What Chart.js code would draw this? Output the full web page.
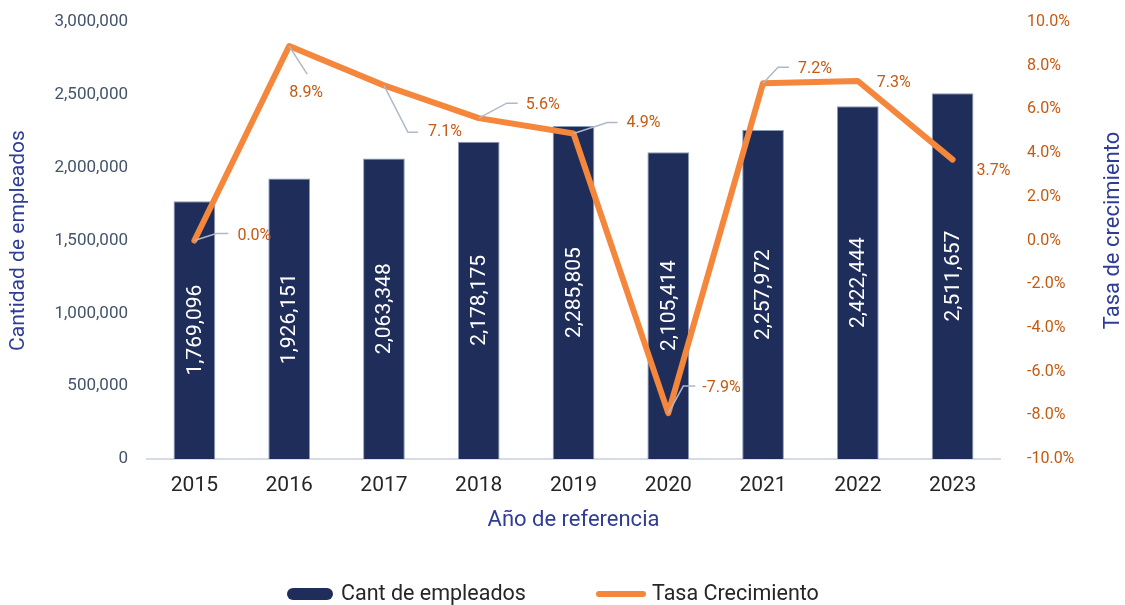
<!DOCTYPE html>
<html>
<head>
<meta charset="utf-8">
<script src="https://cdn.jsdelivr.net/npm/chart.js@4/dist/chart.umd.min.js"></script>
<style>
html,body{margin:0;padding:0;background:#fff;}
#wrap{width:1125px;height:605px;position:relative;}
</style>
</head>
<body>
<div id="wrap"><canvas id="c" width="1125" height="605"></canvas></div>
<script>
// ---- data ----
const years = ['2015','2016','2017','2018','2019','2020','2021','2022','2023'];
const empleados = [1769096, 1926151, 2063348, 2178175, 2285805, 2105414, 2257972, 2422444, 2511657];
const tasa = [0.0, 8.9, 7.1, 5.6, 4.9, -7.9, 7.2, 7.3, 3.7];
const leftTicks = [0, 500000, 1000000, 1500000, 2000000, 2500000, 3000000];
const rightTicks = [-10, -8, -6, -4, -2, 0, 2, 4, 6, 8, 10];

// ---- styles ----
const FONT = 'Roboto, "Noto Sans", sans-serif';
const NAVY = '#1F2D5A';
const ORANGE = '#F5873C';
const ORANGE_TXT = '#C55A11';
const BLUE_TITLE = '#2F3D96';
const LEADER = '#ADB9CA';

// label placement for line labels: text offset (dx,dy) from point, and leader elbow/end offsets
const lineLabelPos = [
  {tx:43, ty:-5, lead:[[22,-7],[34,-7]]},
  {tx:0, ty:47, lead:[[18,28]]},
  {tx:44, ty:47, lead:[[24,47],[34,47]]},
  {tx:47, ty:-13, lead:[[28,-15],[39,-15]]},
  {tx:53, ty:-10, lead:[[34,-11],[44,-11]]},
  {tx:34, ty:-25, lead:[[15,-27],[27,-27]]},
  {tx:35, ty:-14, lead:[[15,-16],[26,-16]]},
  {tx:19, ty:2, lead:null},
  {tx:24, ty:11, lead:null}
];

function zeroPad(s) { s.paddingTop = 0; s.paddingBottom = 0; s.paddingLeft = 0; s.paddingRight = 0; }

const labelPlugin = {
  id: 'labels',
  afterDatasetsDraw(chart) {
    const ctx = chart.ctx;
    const barMeta = chart.getDatasetMeta(0);
    ctx.save();
    ctx.fillStyle = '#FFFFFF';
    ctx.font = '21px ' + FONT;
    ctx.textAlign = 'center';
    ctx.textBaseline = 'middle';
    barMeta.data.forEach((bar, i) => {
      const cy = (bar.y + bar.base) / 2;
      ctx.save();
      ctx.translate(bar.x, cy);
      ctx.rotate(-Math.PI / 2);
      ctx.fillText(empleados[i].toLocaleString('en-US'), 0, 1);
      ctx.restore();
    });
    ctx.restore();
  },
  afterDraw(chart) {
    const ctx = chart.ctx;
    const lineMeta = chart.getDatasetMeta(1);
    ctx.save();
    lineMeta.data.forEach((pt, i) => {
      const p = lineLabelPos[i];
      if (p.lead) {
        ctx.strokeStyle = LEADER;
        ctx.lineWidth = 1.5;
        ctx.beginPath();
        ctx.moveTo(pt.x, pt.y);
        p.lead.forEach(([dx, dy]) => ctx.lineTo(pt.x + dx, pt.y + dy));
        ctx.stroke();
      }
      ctx.fillStyle = ORANGE_TXT;
      ctx.font = '16px ' + FONT;
      ctx.textAlign = 'left';
      ctx.textBaseline = 'middle';
      ctx.fillText(tasa[i].toFixed(1) + '%', pt.x + p.tx, pt.y + p.ty);
    });
    // right axis title (reads bottom to top)
    const area = chart.chartArea;
    ctx.save();
    ctx.translate(1113, (area.top + area.bottom) / 2 - 10);
    ctx.rotate(-Math.PI / 2);
    ctx.fillStyle = BLUE_TITLE;
    ctx.font = '22px ' + FONT;
    ctx.textAlign = 'center';
    ctx.textBaseline = 'middle';
    ctx.fillText('Tasa de crecimiento', 0, 0);
    ctx.restore();
    // legend
    const ly = 594;
    ctx.fillStyle = NAVY;
    ctx.beginPath();
    if (ctx.roundRect) { ctx.roundRect(287, ly - 6, 46, 12, 6); } else { ctx.rect(287, ly - 6, 46, 12); }
    ctx.fill();
    ctx.strokeStyle = ORANGE;
    ctx.lineWidth = 6;
    ctx.lineCap = 'round';
    ctx.beginPath();
    ctx.moveTo(599, ly);
    ctx.lineTo(643, ly);
    ctx.stroke();
    ctx.fillStyle = '#262626';
    ctx.font = '21.5px ' + FONT;
    ctx.textAlign = 'left';
    ctx.textBaseline = 'middle';
    ctx.fillText('Cant de empleados', 341, ly + 1);
    ctx.fillText('Tasa Crecimiento', 652, ly + 1);
    ctx.restore();
  }
};

new Chart(document.getElementById('c'), {
  data: {
    labels: years,
    datasets: [
      {
        type: 'bar',
        label: 'Cant de empleados',
        data: empleados,
        backgroundColor: NAVY,
        borderColor: '#8A9BBA',
        borderWidth: 1,
        yAxisID: 'y',
        barPercentage: 0.44,
        categoryPercentage: 1.0,
        order: 2
      },
      {
        type: 'line',
        label: 'Tasa Crecimiento',
        data: tasa,
        borderColor: ORANGE,
        backgroundColor: ORANGE,
        borderWidth: 6,
        pointRadius: 0,
        borderJoinStyle: 'round',
        borderCapStyle: 'round',
        tension: 0,
        yAxisID: 'y1',
        order: 1
      }
    ]
  },
  options: {
    responsive: false,
    animation: false,
    devicePixelRatio: 1,
    layout: { padding: { top: 22, bottom: 63, left: 0, right: 0 } },
    plugins: {
      legend: { display: false },
      tooltip: { enabled: false }
    },
    scales: {
      x: {
        type: 'category',
        offset: true,
        grid: { display: false, drawTicks: false },
        border: { display: true, color: '#D6DCE5', width: 2 },
        ticks: { color: '#262626', font: { family: FONT, size: 21 }, padding: 14 },
        title: { display: true, text: 'Año de referencia', color: BLUE_TITLE, font: { family: FONT, size: 22 }, padding: { top: 0, bottom: 8 } },
        afterFit(s) { s.height = 83; zeroPad(s); }
      },
      y: {
        position: 'left',
        min: 0,
        max: 3000000,
        afterBuildTicks(s) { s.ticks = leftTicks.map(v => ({ value: v })); },
        grid: { display: false, drawTicks: false },
        border: { display: false },
        ticks: {
          color: '#44546A',
          font: { family: FONT, size: 17 },
          padding: 19,
          callback: v => Number(v).toLocaleString('en-US')
        },
        title: { display: true, text: 'Cantidad de empleados', color: BLUE_TITLE, font: { family: FONT, size: 21 }, padding: { top: 6, bottom: 0 } },
        afterFit(s) { s.width = 147; zeroPad(s); }
      },
      y1: {
        position: 'right',
        min: -10,
        max: 10,
        afterBuildTicks(s) { s.ticks = rightTicks.map(v => ({ value: v })); },
        grid: { display: false, drawTicks: false },
        border: { display: false },
        ticks: {
          color: ORANGE_TXT,
          font: { family: FONT, size: 16 },
          padding: 27,
          callback: v => Number(v).toFixed(1) + '%'
        },
        afterFit(s) { s.width = 125; zeroPad(s); }
      }
    }
  },
  plugins: [labelPlugin]
});
</script>
</body>
</html>
